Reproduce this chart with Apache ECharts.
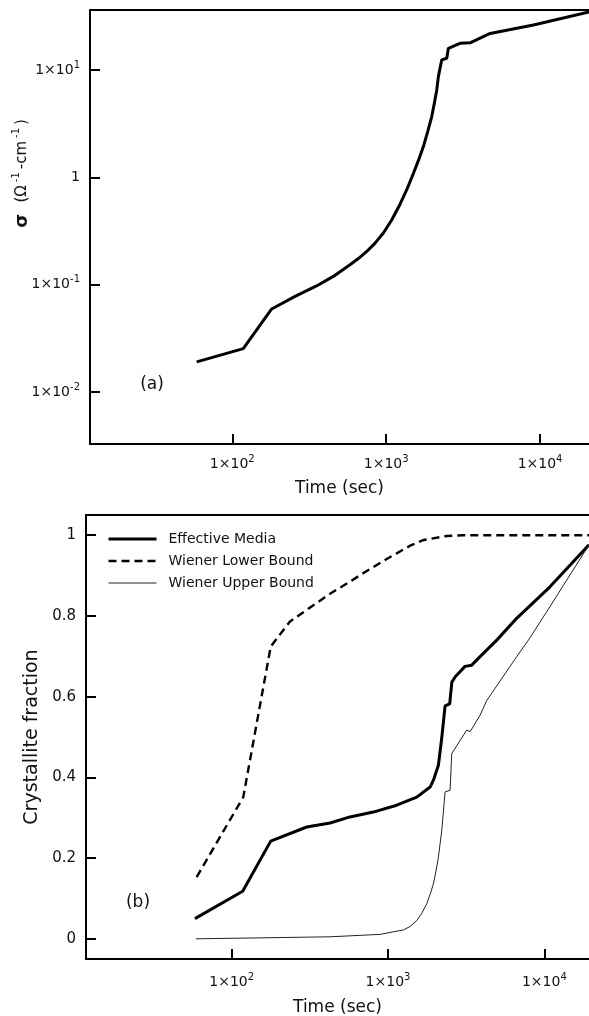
<!DOCTYPE html>
<html>
<head>
<meta charset="utf-8">
<script src="https://cdn.jsdelivr.net/npm/echarts@6/dist/echarts.min.js"></script>
<style>
  html, body { margin: 0; padding: 0; background: #fff; }
  #chart { width: 589px; height: 1016px; }
</style>
</head>
<body>
<div id="chart"></div>
<script>
// (a) conductivity sigma vs. time
const condTime  = [58.7, 117.9, 180.3, 255.9, 350, 453.6, 582, 660, 747.6, 847, 959, 1086, 1231, 1361, 1502, 1619, 1745, 1862, 1978, 2056, 2132, 2184, 2239, 2296, 2476, 2537, 3020, 3508, 4740, 9060, 20800];
const condValue = [0.0191, 0.0254, 0.0594, 0.0778, 0.0968, 0.1194, 0.1535, 0.175, 0.204, 0.244, 0.303, 0.401, 0.562, 0.767, 1.084, 1.43, 1.935, 2.67, 3.68, 4.9, 6.52, 8.67, 8.98, 12.4, 12.85, 15.9, 17.7, 17.9, 21.9, 26.2, 34.8];

// (b) crystallite fraction vs. time
const effTime  = [58.2, 117.6, 177.7, 302, 426, 571, 805, 1137, 1527, 1859, 1951, 2100, 2207, 2318, 2480, 2560, 2700, 3110, 3430, 3880, 4960, 6650, 10860, 19300];
const effValue = [0.05, 0.118, 0.242, 0.277, 0.287, 0.302, 0.314, 0.331, 0.351, 0.376, 0.393, 0.43, 0.498, 0.577, 0.582, 0.636, 0.65, 0.675, 0.678, 0.699, 0.74, 0.794, 0.872, 0.976];

const lowTime  = [59.7, 118.6, 177.7, 236, 302, 426, 571, 695, 1000, 1137, 1400, 1683, 2375, 3000, 19300];
const lowValue = [0.153, 0.351, 0.724, 0.786, 0.815, 0.855, 0.885, 0.906, 0.943, 0.955, 0.975, 0.988, 0.998, 1.0, 1.0];

const upTime  = [59, 426, 889, 1253, 1383, 1527, 1644, 1770, 1858, 1951, 2029, 2100, 2207, 2318, 2495, 2557, 3185, 3350, 3880, 4290, 6650, 7910, 10860, 19300];
const upValue = [0, 0.005, 0.011, 0.022, 0.0305, 0.045, 0.0635, 0.087, 0.11, 0.136, 0.169, 0.202, 0.269, 0.364, 0.368, 0.459, 0.517, 0.513, 0.554, 0.591, 0.699, 0.74, 0.823, 0.976];

// tick positions
const timeTicks = [100, 1000, 10000];
const condTicks = [0.01, 0.1, 1, 10];
const fracTicks = [0, 0.2, 0.4, 0.6, 0.8, 1];

const seriesNames = ['Effective Media', 'Wiener Lower Bound', 'Wiener Upper Bound'];

const FONT = 'DejaVu Sans';
const zip = (xs, ys) => xs.map((x, i) => [x, ys[i]]);

function powLabel(v) {
  const e = Math.round(Math.log10(v));
  if (e === 0) return '{b|1}';
  return '{b|1×10}{s|' + e + '}';
}
const powRich = {
  b: { fontFamily: FONT, fontSize: 14, lineHeight: 20, color: '#111' },
  s: { fontFamily: FONT, fontSize: 10, lineHeight: 10, verticalAlign: 'top', color: '#111' }
};

const axisLine = { show: true, onZero: false, lineStyle: { color: '#000', width: 2 } };
const tickStyle = { inside: true, length: 10, lineStyle: { color: '#000', width: 2 } };

function frameTop(gridIndex) {
  return {
    gridIndex, type: 'value', position: 'top', min: 0, max: 1,
    axisLine: axisLine, axisTick: { show: false }, axisLabel: { show: false }, splitLine: { show: false }
  };
}

const chart = echarts.init(document.getElementById('chart'), null, { renderer: 'canvas' });

chart.setOption({
  animation: false,
  backgroundColor: '#fff',
  grid: [
    { left: 90, top: 10, right: 0, height: 434, outerBoundsMode: 'none' },
    { left: 86, top: 515, right: 0, height: 444, outerBoundsMode: 'none' }
  ],
  xAxis: [
    {
      gridIndex: 0, type: 'log', min: 11.9, max: 20800,
      axisLine: axisLine,
      axisTick: Object.assign({ customValues: timeTicks }, tickStyle),
      axisLabel: { customValues: timeTicks, formatter: powLabel, rich: powRich, margin: 10 },
      splitLine: { show: false },
      name: 'Time (sec)', nameLocation: 'middle', nameGap: 36,
      nameTextStyle: { fontFamily: FONT, fontSize: 17, color: '#111' }
    },
    frameTop(0),
    {
      gridIndex: 1, type: 'log', min: 11.7, max: 19300,
      axisLine: axisLine,
      axisTick: Object.assign({ customValues: timeTicks }, tickStyle),
      axisLabel: { customValues: timeTicks, formatter: powLabel, rich: powRich, margin: 13 },
      splitLine: { show: false },
      name: 'Time (sec)', nameLocation: 'middle', nameGap: 40,
      nameTextStyle: { fontFamily: FONT, fontSize: 17, color: '#111' }
    },
    frameTop(1)
  ],
  yAxis: [
    {
      gridIndex: 0, type: 'log', min: 0.00328, max: 36.2,
      axisLine: axisLine,
      axisTick: Object.assign({ customValues: condTicks }, tickStyle),
      axisLabel: { customValues: condTicks, formatter: powLabel, rich: powRich, margin: 10 },
      splitLine: { show: false }
    },
    {
      gridIndex: 1, type: 'value', min: -0.05, max: 1.05,
      axisLine: axisLine,
      axisTick: Object.assign({ customValues: fracTicks }, tickStyle),
      axisLabel: {
        customValues: fracTicks, margin: 10,
        fontFamily: FONT, fontSize: 15, color: '#111',
        formatter: v => String(Math.round(v * 10) / 10)
      },
      splitLine: { show: false },
      name: 'Crystallite fraction', nameLocation: 'middle', nameGap: 30,
      nameTextStyle: { fontFamily: FONT, fontSize: 19, color: '#111' }
    }
  ],
  legend: {
    left: 107, top: 532, orient: 'vertical', padding: 0,
    itemWidth: 48, itemHeight: 14, itemGap: 8,
    selectedMode: false,
    data: seriesNames,
    itemStyle: { opacity: 0 },
    lineStyle: { width: 'inherit' },
    textStyle: { fontFamily: FONT, fontSize: 14, color: '#111', padding: [0, 0, 0, 7] }
  },
  graphic: [
    {
      type: 'text', x: 22, y: 173, rotation: Math.PI / 2,
      style: {
        text: '{g|σ} {p|(Ω}{s|-1}{p|-cm}{s|-1}{p|)}',
        align: 'center', verticalAlign: 'middle',
        rich: {
          g: { fontFamily: FONT, fontWeight: 'bold', fontSize: 18, lineHeight: 22, fill: '#111', padding: [0, 7, 0, 0] },
          p: { fontFamily: FONT, fontSize: 15, lineHeight: 22, fill: '#111', padding: [0, 1, 0, 1] },
          s: { fontFamily: FONT, fontSize: 10, lineHeight: 12, verticalAlign: 'top', fill: '#111', padding: [0, 2, 0, 2] }
        }
      }
    },
    { type: 'text', x: 152, y: 385, style: { text: '(a)', fontFamily: FONT, fontSize: 17, fill: '#111', align: 'center', verticalAlign: 'middle' } },
    { type: 'text', x: 138, y: 903, style: { text: '(b)', fontFamily: FONT, fontSize: 17, fill: '#111', align: 'center', verticalAlign: 'middle' } }
  ],
  series: [
    {
      type: 'line', xAxisIndex: 0, yAxisIndex: 0, symbol: 'none',
      data: zip(condTime, condValue),
      lineStyle: { color: '#000', width: 3 }, itemStyle: { color: '#000' }
    },
    {
      name: seriesNames[0], type: 'line', xAxisIndex: 2, yAxisIndex: 1, symbol: 'none',
      data: zip(effTime, effValue),
      lineStyle: { color: '#000', width: 3 }, itemStyle: { color: '#000' }
    },
    {
      name: seriesNames[1], type: 'line', xAxisIndex: 2, yAxisIndex: 1, symbol: 'none',
      data: zip(lowTime, lowValue),
      lineStyle: { color: '#000', width: 2.4, type: [8, 5] }, itemStyle: { color: '#000' }
    },
    {
      name: seriesNames[2], type: 'line', xAxisIndex: 2, yAxisIndex: 1, symbol: 'none',
      data: zip(upTime, upValue),
      lineStyle: { color: '#222', width: 1 }, itemStyle: { color: '#222' }
    }
  ]
});
</script>
</body>
</html>
